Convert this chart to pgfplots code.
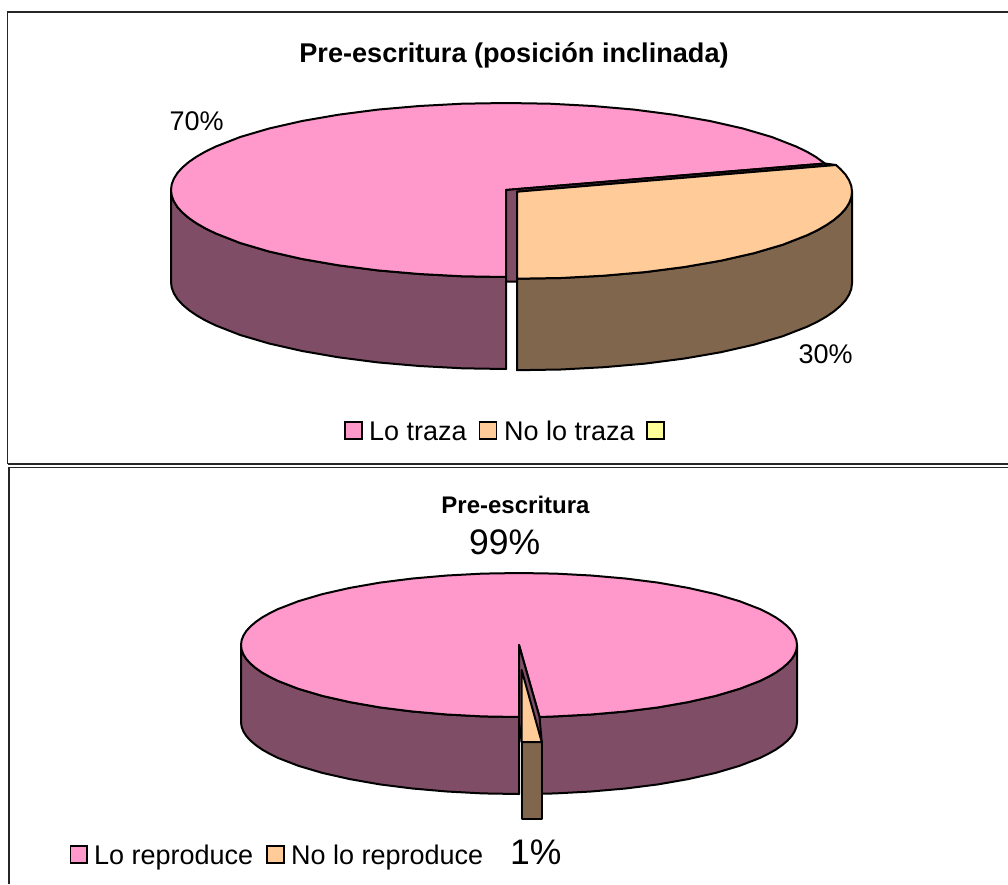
\documentclass[border=0pt]{standalone}
\usepackage{pgfplots}
\pgfplotsset{compat=1.18}
\usepackage{fontspec}
\setmainfont{Liberation Sans}
\definecolor{cpink}{HTML}{FF99CC}
\definecolor{cmauve}{HTML}{804D66}
\definecolor{corange}{HTML}{FFCC99}
\definecolor{cbrown}{HTML}{80664D}
\definecolor{cyellow}{HTML}{FFFF99}
\newcommand{\fs}[1]{\fontsize{#1}{#1}\selectfont}
\pgfplotsset{pie/.style={draw=black,line width=2pt,line join=round,mark=none},
 frm/.style={draw=black!85,line width=1.5pt,mark=none,fill=none},
 box/.style={draw=black,line width=1.8pt,mark=none}}
\begin{document}
\begin{tikzpicture}
\begin{axis}[scale only axis,width=1008pt,height=884pt,xmin=0,xmax=1008,ymin=0,ymax=884,y dir=reverse,axis lines=none,clip=true]
\addplot[draw=none,fill=white,mark=none] coordinates {(0,0) (1008,0) (1008,884) (0,884)} -- cycle;
% frames
\addplot[frm] coordinates {(7.5,464) (7.5,12) (1008,12)};
\addplot[frm] coordinates {(7.5,464) (1008,464)};
\addplot[frm] coordinates {(9,884) (9,467.5) (1008,467.5)};
% Pie 1
\addplot[pie,fill=cmauve] coordinates {(171,190) (171.7,195.7) (173.9,201.4) (177.4,207) (182.4,212.5) (188.8,218) (196.5,223.3) (205.5,228.5) (215.9,233.5) (240.2,243) (269.1,251.5) (302.1,259) (338.5,265.3) (377.8,270.4) (419.3,274) (462.3,276.3) (506,277) (506,369) (462.3,368.3) (419.3,366) (377.8,362.4) (338.5,357.3) (302.1,351) (269.1,343.5) (240.2,335) (215.9,325.5) (205.5,320.5) (196.5,315.3) (188.8,310) (182.4,304.5) (177.4,299) (173.9,293.4) (171.7,287.7) (171,282)} -- cycle;
\addplot[pie,fill=cpink] coordinates {(506,190) (825,163.5) (815.5,156.7) (806.5,151.5) (796.1,146.5) (771.8,137) (742.9,128.5) (709.9,121) (673.5,114.7) (634.2,109.6) (592.7,106) (549.7,103.7) (506,103) (462.3,103.7) (419.3,106) (377.8,109.6) (338.5,114.7) (302.1,121) (269.1,128.5) (240.2,137) (215.9,146.5) (205.5,151.5) (196.5,156.7) (188.8,162) (182.4,167.5) (177.4,173) (173.9,178.6) (171.7,184.3) (171,190) (171.7,195.7) (173.9,201.4) (177.4,207) (182.4,212.5) (188.8,218) (196.5,223.3) (205.5,228.5) (215.9,233.5) (240.2,243) (269.1,251.5) (302.1,259) (338.5,265.3) (377.8,270.4) (419.3,274) (462.3,276.3) (506,277)} -- cycle;
\addplot[pie,fill=cmauve] coordinates {(506,190) (825,163.5) (836,165) (517,191.7) (517,281.5) (506,281.5)} -- cycle;
\addplot[pie,fill=cbrown] coordinates {(852,191.7) (851.3,197.4) (849.1,203.1) (845.6,208.7) (840.6,214.2) (834.2,219.7) (826.5,225) (817.5,230.2) (807.1,235.2) (782.8,244.7) (753.9,253.2) (720.9,260.7) (684.5,267) (645.2,272.1) (603.7,275.7) (560.7,278) (517,278.7) (517,370.2) (560.7,369.5) (603.7,367.2) (645.2,363.6) (684.5,358.5) (720.9,352.2) (753.9,344.7) (782.8,336.2) (807.1,326.7) (817.5,321.7) (826.5,316.5) (834.2,311.2) (840.6,305.7) (845.6,300.2) (849.1,294.6) (851.3,288.9) (852,283.2)} -- cycle;
\addplot[pie,fill=corange] coordinates {(517,191.7) (836,165) (840.6,169.2) (845.6,174.7) (849.1,180.3) (851.3,186) (852,191.7) (851.3,197.4) (849.1,203.1) (845.6,208.7) (840.6,214.2) (834.2,219.7) (826.5,225) (817.5,230.2) (807.1,235.2) (782.8,244.7) (753.9,253.2) (720.9,260.7) (684.5,267) (645.2,272.1) (603.7,275.7) (560.7,278) (517,278.7)} -- cycle;
% Pie 2
\addplot[pie,fill=cmauve] coordinates {(241,645) (241.6,649.7) (243.4,654.4) (246.3,659) (250.5,663.6) (255.8,668.1) (262.2,672.6) (269.7,676.8) (278.2,681) (298.4,688.8) (322.4,695.9) (349.8,702.1) (380,707.4) (412.6,711.5) (447,714.5) (482.7,716.4) (519,717) (519,794) (482.7,793.4) (447,791.5) (412.6,788.5) (380,784.4) (349.8,779.1) (322.4,772.9) (298.4,765.8) (278.2,758) (269.7,753.8) (262.2,749.6) (255.8,745.1) (250.5,740.6) (246.3,736) (243.4,731.4) (241.6,726.7) (241,722)} -- cycle;
\addplot[pie,fill=cmauve] coordinates {(539.5,717) (555.3,716.4) (591,714.5) (625.4,711.5) (658,707.4) (688.2,702.1) (715.6,695.9) (739.6,688.8) (759.8,681) (768.3,676.8) (775.8,672.6) (782.2,668.1) (787.5,663.6) (791.7,659) (794.6,654.4) (796.4,649.7) (797,645) (797,722) (796.4,726.7) (794.6,731.4) (791.7,736) (787.5,740.6) (782.2,745.1) (775.8,749.6) (768.3,753.8) (759.8,758) (739.6,765.8) (715.6,772.9) (688.2,779.1) (658,784.4) (625.4,788.5) (591,791.5) (555.3,793.4) (539.5,793.8)} -- cycle;
\addplot[pie,fill=cpink] coordinates {(519,645) (539.5,717) (555.3,716.4) (591,714.5) (625.4,711.5) (658,707.4) (688.2,702.1) (715.6,695.9) (739.6,688.8) (759.8,681) (768.3,676.8) (775.8,672.6) (782.2,668.1) (787.5,663.6) (791.7,659) (794.6,654.4) (796.4,649.7) (797,645) (796.4,640.3) (794.6,635.6) (791.7,631) (787.5,626.4) (782.2,621.9) (775.8,617.4) (768.3,613.2) (759.8,609) (739.6,601.2) (715.6,594.1) (688.2,587.9) (658,582.6) (625.4,578.5) (591,575.5) (555.3,573.6) (519,573) (482.7,573.6) (447,575.5) (412.6,578.5) (380,582.6) (349.8,587.9) (322.4,594.1) (298.4,601.2) (278.2,609) (269.7,613.2) (262.2,617.4) (255.8,621.9) (250.5,626.4) (246.3,631) (243.4,635.6) (241.6,640.3) (241,645) (241.6,649.7) (243.4,654.4) (246.3,659) (250.5,663.6) (255.8,668.1) (262.2,672.6) (269.7,676.8) (278.2,681) (298.4,688.8) (322.4,695.9) (349.8,702.1) (380,707.4) (412.6,711.5) (447,714.5) (482.7,716.4) (519,717)} -- cycle;
\addplot[pie,fill=cmauve] coordinates {(519,645) (539.5,717) (541.7,742) (521.7,742) (519,722)} -- cycle;
\addplot[pie,fill=cbrown] coordinates {(521.7,742) (541.7,742) (541.7,819) (521.7,819)} -- cycle;
\addplot[pie,fill=corange] coordinates {(521.7,670) (541.7,742) (521.7,742)} -- cycle;
% Legend swatches
\addplot[box,fill=cpink] coordinates {(345,422) (362,422) (362,439) (345,439)} -- cycle;
\addplot[box,fill=corange] coordinates {(479.5,422) (496.5,422) (496.5,439) (479.5,439)} -- cycle;
\addplot[box,fill=cyellow] coordinates {(647,422) (664,422) (664,439) (647,439)} -- cycle;
\addplot[box,fill=cpink] coordinates {(70.5,846) (87,846) (87,863) (70.5,863)} -- cycle;
\addplot[box,fill=corange] coordinates {(267,846) (284,846) (284,863) (267,863)} -- cycle;
% Text
\node[anchor=base,font=\fs{27.1}\bfseries,inner sep=0pt] at (axis cs:514,62.5) {Pre-escritura (posición inclinada)};
\node[anchor=base,font=\fs{24}\bfseries,inner sep=0pt] at (axis cs:515.5,513.5) {Pre-escritura};
\node[anchor=base west,font=\fs{27},inner sep=0pt] at (axis cs:169.5,130) {70\%};
\node[anchor=base west,font=\fs{27},inner sep=0pt] at (axis cs:798.5,363) {30\%};
\node[anchor=base west,font=\fs{35.5},inner sep=0pt] at (axis cs:469,554) {99\%};
\node[anchor=base west,font=\fs{35.5},inner sep=0pt] at (axis cs:510,864.5) {1\%};
\node[anchor=base west,font=\fs{27},inner sep=0pt] at (axis cs:369,440) {Lo traza};
\node[anchor=base west,font=\fs{27},inner sep=0pt] at (axis cs:504,440) {No lo traza};
\node[anchor=base west,font=\fs{27},inner sep=0pt] at (axis cs:94,864) {Lo reproduce};
\node[anchor=base west,font=\fs{27},inner sep=0pt] at (axis cs:291,864) {No lo reproduce};
\end{axis}
\end{tikzpicture}
\end{document}
